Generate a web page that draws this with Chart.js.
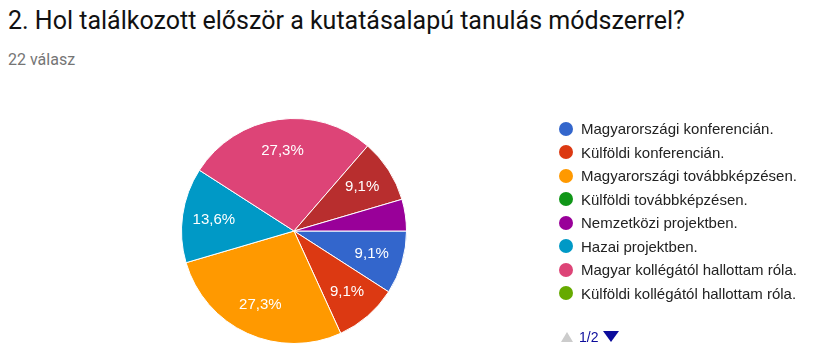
<!DOCTYPE html>
<html>
<head>
<meta charset="utf-8">
<script src="https://cdn.jsdelivr.net/npm/chart.js@4"></script>
<style>
  html, body { margin: 0; padding: 0; background: #fff; }
  body { width: 821px; height: 360px; position: relative; overflow: hidden; }
  .title { position: absolute; left: 8px; top: 8px; font: 400 25px/25px Roboto, Arial, sans-serif; color: #111; white-space: nowrap; }
  .sub { position: absolute; left: 8px; top: 52px; font: 400 16px/16px Roboto, Arial, sans-serif; color: #757575; }
  #cnv { position: absolute; left: 0; top: 0; }
  .legend { position: absolute; left: 559px; top: 0; font: 15px/15px Arial, sans-serif; color: #222; }
  .legend .item { position: absolute; left: 0; white-space: nowrap; height: 15px; }
  .legend .dot { position: absolute; left: 0; top: 0; width: 14px; height: 14px; border-radius: 50%; }
  .legend .txt { position: absolute; left: 22px; top: -0.5px; }
  .pager { position: absolute; left: 561px; top: 331px; font: 14px/14px Arial, sans-serif; color: #0c0c9c; height: 14px; }
  .up { position: absolute; left: 0; top: 1px; width: 0; height: 0; border-left: 6px solid transparent; border-right: 6px solid transparent; border-bottom: 10px solid #ccc; }
  .pg { position: absolute; left: 18px; top: -1px; }
  .down { position: absolute; left: 42px; top: 0; width: 0; height: 0; border-left: 8px solid transparent; border-right: 8px solid transparent; border-top: 11px solid #0c0c9c; }
</style>
</head>
<body>
<div class="title">2. Hol találkozott először a kutatásalapú tanulás módszerrel?</div>
<div class="sub">22 válasz</div>
<canvas id="cnv" width="821" height="360"></canvas>
<div class="legend" id="legend"></div>
<div class="pager"><span class="up"></span><span class="pg">1/2</span><span class="down"></span></div>
<script>
// legend order (page 1 of the legend shows the first 8)
const categories = [
  'Magyarországi konferencián.',
  'Külföldi konferencián.',
  'Magyarországi továbbképzésen.',
  'Külföldi továbbképzésen.',
  'Nemzetközi projektben.',
  'Hazai projektben.',
  'Magyar kollégától hallottam róla.',
  'Külföldi kollégától hallottam róla.',
  'Egyéb'
]
const counts = [2, 2, 6, 0, 1, 3, 6, 0, 2]
const colors = ['#3366cc', '#dc3912', '#ff9900', '#109618', '#990099', '#0099c6', '#dd4477', '#66aa00', '#b82e2e']
// order the slices appear in, clockwise from 3 o'clock
const sliceOrder = [0, 1, 2, 3, 5, 6, 7, 8, 4]
const legendShown = 8

const total = counts.reduce((a, b) => a + b, 0)

// percentage labels inside slices
const sliceLabels = {
  id: 'sliceLabels',
  afterDatasetsDraw (chart) {
    const ctx = chart.ctx
    const meta = chart.getDatasetMeta(0)
    const vals = chart.data.datasets[0].data
    ctx.save()
    ctx.font = '15px Arial, sans-serif'
    ctx.fillStyle = '#fff'
    ctx.textAlign = 'center'
    ctx.textBaseline = 'middle'
    meta.data.forEach((arc, i) => {
      const v = vals[i]
      if (!v || v / total < 0.06) return
      const mid = (arc.startAngle + arc.endAngle) / 2
      const r = arc.outerRadius * 0.72
      const txt = (v / total * 100).toFixed(1).replace('.', ',') + '%'
      ctx.fillText(txt, arc.x + Math.cos(mid) * r, arc.y + Math.sin(mid) * r)
    })
    ctx.restore()
  }
}

const chart = new Chart(document.getElementById('cnv'), {
  type: 'pie',
  data: {
    labels: sliceOrder.map(i => categories[i]),
    datasets: [{
      data: sliceOrder.map(i => counts[i]),
      backgroundColor: sliceOrder.map(i => colors[i]),
      borderColor: '#fff',
      borderWidth: 1
    }]
  },
  options: {
    responsive: false,
    animation: false,
    rotation: 90,
    layout: { padding: { left: 181, right: 414, top: 118, bottom: 16 } },
    plugins: {
      legend: { display: false },
      tooltip: { enabled: false }
    }
  },
  plugins: [sliceLabels]
})

const legend = document.getElementById('legend')
categories.slice(0, legendShown).forEach((name, i) => {
  const item = document.createElement('div')
  item.className = 'item'
  item.style.top = (121.5 + i * 23.5) + 'px'
  item.innerHTML = `<span class="dot" style="background:${colors[i]}"></span><span class="txt">${name}</span>`
  legend.appendChild(item)
})
</script>
</body>
</html>
